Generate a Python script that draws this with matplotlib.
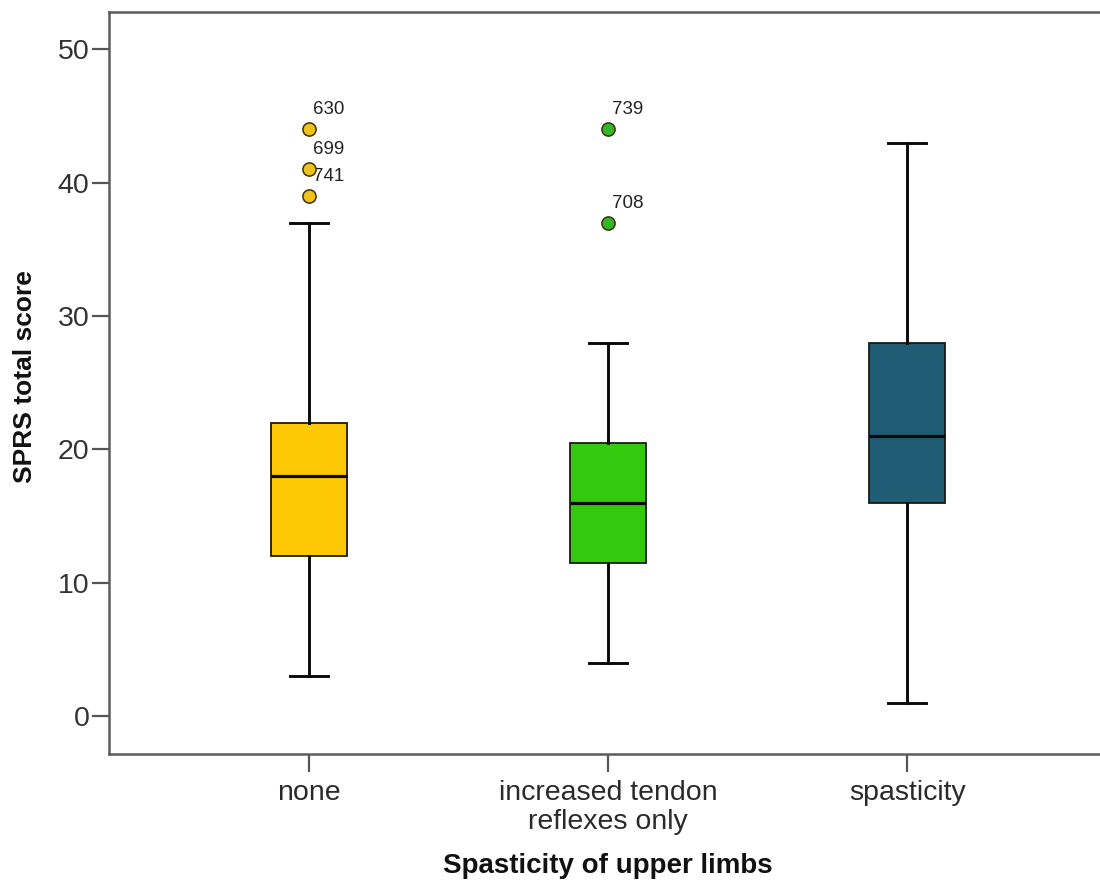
import matplotlib
matplotlib.use("Agg")
import matplotlib.pyplot as plt

# SPRS total score by upper-limb spasticity group
groups = ["none", "increased tendon\nreflexes only", "spasticity"]
q1 = [12, 11.5, 16]
medians = [18, 16, 21]
q3 = [22, 20.5, 28]
whisker_low = [3, 4, 1]
whisker_high = [37, 28, 43]
outliers = [[44, 41, 39], [44, 37], []]
outlier_ids = [["630", "699", "741"], ["739", "708"], []]

box_colors = ["#FFC805", "#33C90C", "#1E5D74"]
flier_colors = ["#F0C21C", "#35B52A", "#1E5D74"]

plt.rcParams["font.family"] = ["Liberation Sans", "DejaVu Sans"]

fig = plt.figure(figsize=(11, 8.89), dpi=100)
ax = fig.add_axes([109 / 1100, 1 - 754 / 889, 1 - 109 / 1100, (754 - 12) / 889])

positions = [1, 2, 3]
stats = []
for i in range(3):
    stats.append({"med": medians[i], "q1": q1[i], "q3": q3[i],
                  "whislo": whisker_low[i], "whishi": whisker_high[i],
                  "fliers": outliers[i], "label": groups[i]})

bp = ax.bxp(stats, positions=positions, widths=0.254, capwidths=0.127,
            patch_artist=True, showfliers=False,
            boxprops=dict(edgecolor="#1a1a1a", linewidth=1.3),
            medianprops=dict(color="#0a0a0a", linewidth=2.3),
            whiskerprops=dict(color="#0a0a0a", linewidth=2.1),
            capprops=dict(color="#0a0a0a", linewidth=2.1))
for patch, c in zip(bp["boxes"], box_colors):
    patch.set_facecolor(c)

# outliers with their case numbers
for i in range(3):
    if not outliers[i]:
        continue
    xs = [positions[i]] * len(outliers[i])
    ax.plot(xs, outliers[i], "o", markersize=9.5, markerfacecolor=flier_colors[i],
            markeredgecolor="#3a3208", markeredgewidth=1.1, zorder=4)
    for val, lab in zip(outliers[i], outlier_ids[i]):
        ax.annotate(lab, (positions[i], val), xytext=(3, 8), textcoords="offset points",
                    fontsize=13.5, color="#222222", ha="left", va="bottom")

ax.set_xlim(1 - 200 / 299.3, 3 + 193 / 299.3)
ax.set_ylim(-2.85, 52.8)
ax.set_yticks([0, 10, 20, 30, 40, 50])
ax.set_xticks(positions)
ax.set_xticklabels(groups, fontsize=20.5, color="#2a2a2a", linespacing=1.12)
ax.tick_params(axis="y", labelsize=20.5, labelcolor="#333333", length=12, width=1.6,
               color="#555555", pad=2)
ax.tick_params(axis="x", length=13, width=1.6, color="#555555", pad=6)

for side in ["left", "bottom", "top"]:
    ax.spines[side].set_color("#5c5c5c")
    ax.spines[side].set_linewidth(1.8)
ax.spines["right"].set_visible(False)

fig.text(25 / 1100, 1 - 377 / 889, "SPRS total score", rotation=90, fontsize=19,
         fontweight="bold", ha="center", va="center", color="#111111")
fig.text(608 / 1100, 1 - 866 / 889, "Spasticity of upper limbs", fontsize=20,
         fontweight="bold", ha="center", va="center", color="#111111")

fig.savefig("out.png", dpi=100, facecolor="white")
